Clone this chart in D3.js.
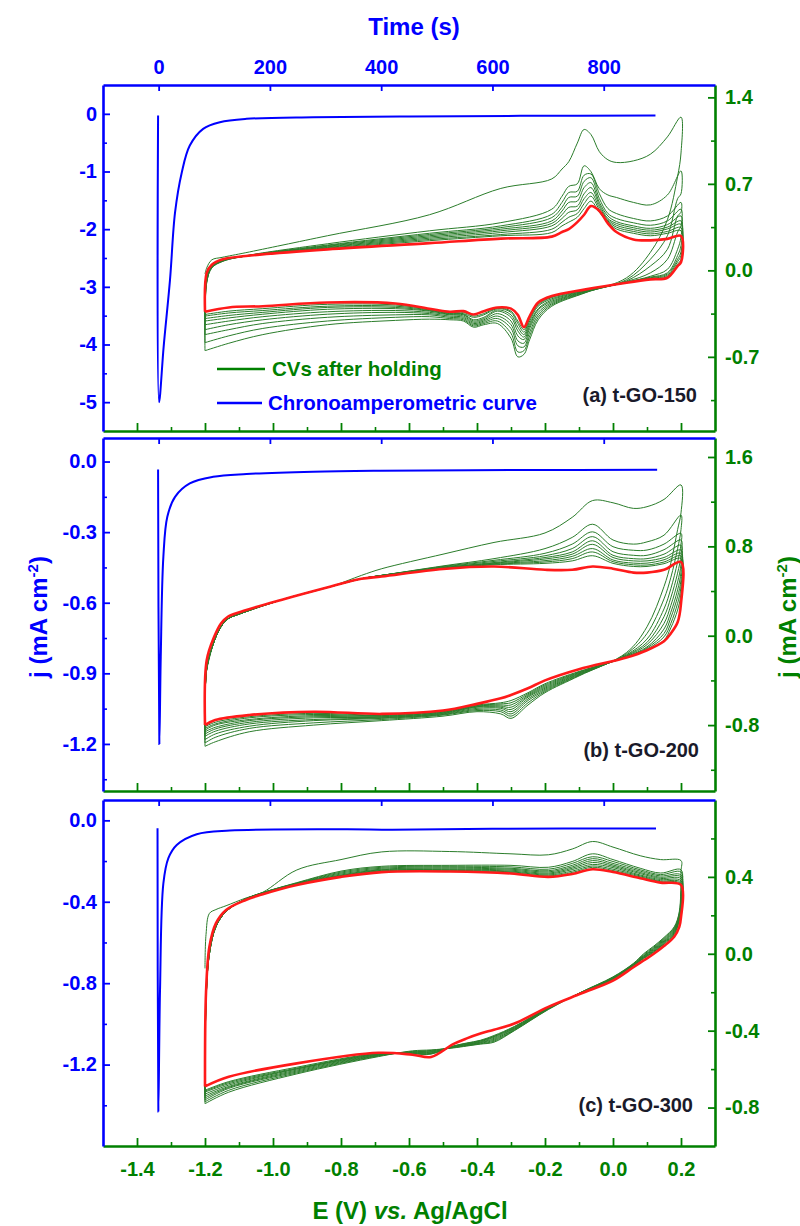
<!DOCTYPE html>
<html><head><meta charset="utf-8">
<script src="https://cdn.jsdelivr.net/npm/d3@7"></script>
<style>
body{margin:0;background:#fff}
svg text{font-family:"Liberation Sans",Arial,sans-serif;font-weight:bold}
</style>
</head><body><svg id="chart" width="800" height="1226"></svg>
<script>
// ---------------- tick labels ----------------
const timeTicks = [0, 200, 400, 600, 800];
const eTicks = [-1.4, -1.2, -1.0, -0.8, -0.6, -0.4, -0.2, 0.0, 0.2];
const eMinor = [-1.3, -1.1, -0.9, -0.7, -0.5, -0.3, -0.1, 0.1];
const aLeftTicks = [0, -1, -2, -3, -4, -5];
const aLeftMinor = [-0.5, -1.5, -2.5, -3.5, -4.5];
const bLeftTicks = [0, -0.3, -0.6, -0.9, -1.2];
const bLeftMinor = [-0.15, -0.45, -0.75, -1.05, -1.35];
const cLeftTicks = [0, -0.4, -0.8, -1.2];
const cLeftMinor = [-0.2, -0.6, -1.0, -1.4];
const aRightTicks = [1.4, 0.7, 0, -0.7];
const aRightMinor = [1.05, 0.35, -0.35, -1.05];
const bRightTicks = [1.6, 0.8, 0, -0.8];
const bRightMinor = [1.2, 0.4, -0.4, -1.2];
const cRightTicks = [0.4, 0, -0.4, -0.8];
const cRightMinor = [0.6, 0.2, -0.2, -0.6];

// ---------------- chronoamperometric curves (time s, j mA cm-2) ----------------
const chronoA_t = [-1, 0.7, 9, 20.5, 29.5, 41.5, 56, 80, 110, 158, 278, 450, 650, 893];
const chronoA_j = [-0.03, -5.0, -4.04, -2.87, -1.71, -1.02, -0.55, -0.26, -0.145, -0.087, -0.058, -0.045, -0.035, -0.03];
const chronoB_t = [-1, 1.3, 3.8, 8.5, 15.6, 29.5, 56, 98, 158, 278, 398, 650, 896];
const chronoB_j = [-0.034, -1.2, -0.83, -0.405, -0.235, -0.15, -0.093, -0.065, -0.053, -0.043, -0.039, -0.036, -0.035];
const chronoC_t = [-2, -0.5, 2.5, 8.5, 17.5, 32.5, 68.5, 128, 338, 420, 600, 894];
const chronoC_j = [-0.039, -1.43, -0.833, -0.31, -0.186, -0.121, -0.068, -0.05, -0.044, -0.046, -0.041, -0.04];

// ---------------- CVs panel (a): E grids and j per cycle (9 green + last red) ----------------
const aEup = [-1.2, -1.195, -1.18, -1.15, -1.08, -0.84, -0.54, -0.33, -0.18, -0.15, -0.13, -0.105, -0.085, -0.065, -0.04, -0.015, 0.01, 0.06, 0.11, 0.16, 0.2];
const aUp = [
 [-0.03, 0.02, 0.085, 0.105, 0.143, 0.28, 0.45, 0.663, 0.74, 0.82, 0.88, 1.03, 1.14, 1.10, 0.96, 0.895, 0.873, 0.886, 0.94, 1.08, 1.24],
 [-0.65, -0.10, 0.02, 0.07, 0.118, 0.215, 0.32, 0.386, 0.495, 0.60, 0.68, 0.70, 0.846, 0.80, 0.66, 0.61, 0.59, 0.55, 0.53, 0.61, 0.805],
 [-0.585, -0.10, 0.02, 0.072, 0.117, 0.205, 0.30, 0.36, 0.454, 0.55, 0.63, 0.64, 0.77, 0.78, 0.62, 0.50, 0.46, 0.42, 0.40, 0.44, 0.55],
 [-0.52, -0.09, 0.025, 0.075, 0.116, 0.20, 0.29, 0.346, 0.427, 0.51, 0.59, 0.60, 0.72, 0.75, 0.58, 0.46, 0.42, 0.385, 0.365, 0.40, 0.495],
 [-0.48, -0.08, 0.03, 0.077, 0.116, 0.195, 0.28, 0.333, 0.40, 0.48, 0.55, 0.56, 0.67, 0.71, 0.55, 0.44, 0.395, 0.36, 0.34, 0.37, 0.44],
 [-0.44, -0.07, 0.03, 0.08, 0.115, 0.19, 0.27, 0.32, 0.38, 0.45, 0.51, 0.52, 0.62, 0.67, 0.53, 0.42, 0.38, 0.345, 0.325, 0.35, 0.40],
 [-0.41, -0.06, 0.035, 0.082, 0.115, 0.185, 0.26, 0.306, 0.36, 0.42, 0.47, 0.49, 0.58, 0.63, 0.51, 0.41, 0.365, 0.33, 0.31, 0.335, 0.373],
 [-0.39, -0.05, 0.04, 0.084, 0.115, 0.18, 0.25, 0.29, 0.333, 0.39, 0.43, 0.46, 0.54, 0.60, 0.49, 0.40, 0.35, 0.315, 0.295, 0.315, 0.346],
 [-0.37, -0.04, 0.04, 0.086, 0.115, 0.175, 0.24, 0.28, 0.306, 0.36, 0.39, 0.43, 0.50, 0.56, 0.47, 0.39, 0.335, 0.30, 0.28, 0.30, 0.32],
 [-0.335, -0.02, 0.045, 0.088, 0.116, 0.17, 0.22, 0.257, 0.273, 0.31, 0.333, 0.39, 0.45, 0.52, 0.48, 0.38, 0.31, 0.25, 0.243, 0.255, 0.278]
];
const aEdn = [0.2, 0.19, 0.16, 0.11, 0.04, -0.08, -0.18, -0.22, -0.245, -0.262, -0.28, -0.3, -0.34, -0.38, -0.41, -0.44, -0.48, -0.54, -0.64, -0.84, -1.03, -1.13, -1.2];
const aDn = [
 [0.95, 0.76, 0.41, 0.146, -0.06, -0.18, -0.29, -0.40, -0.56, -0.68, -0.70, -0.55, -0.43, -0.44, -0.46, -0.41, -0.40, -0.395, -0.405, -0.44, -0.52, -0.59, -0.65],
 [0.62, 0.58, 0.28, 0.09, -0.075, -0.178, -0.28, -0.38, -0.53, -0.65, -0.66, -0.51, -0.41, -0.43, -0.45, -0.40, -0.39, -0.375, -0.38, -0.41, -0.47, -0.53, -0.585],
 [0.47, 0.44, 0.17, 0.035, -0.085, -0.175, -0.27, -0.36, -0.50, -0.62, -0.61, -0.47, -0.39, -0.42, -0.44, -0.39, -0.38, -0.36, -0.36, -0.38, -0.43, -0.48, -0.52],
 [0.36, 0.31, 0.089, -0.02, -0.09, -0.172, -0.26, -0.34, -0.47, -0.59, -0.57, -0.44, -0.37, -0.41, -0.43, -0.38, -0.37, -0.35, -0.34, -0.355, -0.40, -0.44, -0.48],
 [0.27, 0.17, 0.008, -0.048, -0.095, -0.17, -0.25, -0.32, -0.45, -0.56, -0.53, -0.41, -0.35, -0.40, -0.42, -0.37, -0.36, -0.34, -0.325, -0.335, -0.375, -0.41, -0.44],
 [0.20, 0.12, -0.02, -0.055, -0.097, -0.167, -0.24, -0.31, -0.43, -0.54, -0.49, -0.38, -0.33, -0.39, -0.41, -0.36, -0.355, -0.33, -0.31, -0.315, -0.355, -0.385, -0.41],
 [0.15, 0.09, -0.03, -0.06, -0.099, -0.164, -0.23, -0.29, -0.41, -0.52, -0.46, -0.36, -0.32, -0.38, -0.40, -0.355, -0.35, -0.325, -0.30, -0.30, -0.34, -0.365, -0.39],
 [0.12, 0.07, -0.04, -0.065, -0.10, -0.16, -0.22, -0.28, -0.39, -0.50, -0.43, -0.34, -0.31, -0.36, -0.38, -0.35, -0.345, -0.32, -0.29, -0.29, -0.325, -0.345, -0.37],
 [0.09, 0.05, -0.05, -0.07, -0.10, -0.157, -0.215, -0.27, -0.38, -0.48, -0.41, -0.33, -0.305, -0.35, -0.37, -0.34, -0.34, -0.315, -0.28, -0.275, -0.31, -0.33, -0.357],
 [0.065, 0.035, -0.06, -0.073, -0.10, -0.154, -0.208, -0.26, -0.37, -0.46, -0.36, -0.31, -0.30, -0.33, -0.357, -0.33, -0.335, -0.31, -0.268, -0.26, -0.29, -0.30, -0.335]
];

// ---------------- CVs panel (b) ----------------
const bEup = [-1.2, -1.195, -1.173, -1.153, -1.133, -1.094, -0.976, -0.83, -0.74, -0.68, -0.5, -0.35, -0.2, -0.12, -0.06, 0.0, 0.06, 0.1, 0.15, 0.2];
const bUp = [
 [-0.37, -0.3, -0.05, 0.08, 0.15, 0.20, 0.32, 0.44, 0.54, 0.60, 0.73, 0.835, 0.92, 1.06, 1.21, 1.19, 1.14, 1.155, 1.22, 1.35],
 [-0.99, -0.3, -0.05, 0.08, 0.15, 0.20, 0.32, 0.44, 0.51, 0.54, 0.625, 0.69, 0.78, 0.88, 0.998, 0.857, 0.82, 0.84, 0.90, 1.08],
 [-0.96, -0.3, -0.05, 0.08, 0.15, 0.20, 0.32, 0.44, 0.51, 0.54, 0.62, 0.675, 0.738, 0.82, 0.93, 0.797, 0.765, 0.767, 0.82, 0.917],
 [-0.93, -0.3, -0.05, 0.08, 0.15, 0.20, 0.32, 0.44, 0.51, 0.54, 0.615, 0.665, 0.716, 0.78, 0.887, 0.752, 0.72, 0.72, 0.77, 0.857],
 [-0.90, -0.3, -0.05, 0.08, 0.15, 0.20, 0.32, 0.44, 0.51, 0.54, 0.61, 0.655, 0.70, 0.75, 0.85, 0.72, 0.69, 0.69, 0.73, 0.81],
 [-0.88, -0.3, -0.05, 0.08, 0.15, 0.20, 0.32, 0.44, 0.51, 0.54, 0.607, 0.65, 0.687, 0.73, 0.818, 0.70, 0.67, 0.67, 0.70, 0.767],
 [-0.86, -0.3, -0.05, 0.08, 0.15, 0.20, 0.32, 0.44, 0.51, 0.54, 0.604, 0.645, 0.672, 0.71, 0.78, 0.678, 0.65, 0.65, 0.68, 0.738],
 [-0.845, -0.3, -0.05, 0.08, 0.15, 0.20, 0.32, 0.44, 0.51, 0.54, 0.602, 0.64, 0.66, 0.69, 0.75, 0.663, 0.635, 0.633, 0.66, 0.714],
 [-0.83, -0.3, -0.05, 0.08, 0.15, 0.20, 0.32, 0.44, 0.51, 0.535, 0.60, 0.635, 0.648, 0.67, 0.716, 0.648, 0.62, 0.62, 0.645, 0.69],
 [-0.80, -0.22, -0.01, 0.11, 0.17, 0.215, 0.32, 0.44, 0.51, 0.53, 0.598, 0.62, 0.59, 0.59, 0.62, 0.60, 0.565, 0.565, 0.59, 0.66]
];
const bEdn = [0.2, 0.19, 0.17, 0.15, 0.1, 0.04, -0.1, -0.2, -0.25, -0.3, -0.33, -0.4, -0.5, -0.68, -0.88, -1.07, -1.17, -1.2];
const bDn = [
 [1.1, 0.95, 0.65, 0.44, 0.08, -0.15, -0.36, -0.51, -0.62, -0.74, -0.70, -0.68, -0.72, -0.76, -0.80, -0.86, -0.95, -0.99],
 [0.95, 0.78, 0.52, 0.33, 0.02, -0.16, -0.355, -0.50, -0.60, -0.72, -0.68, -0.67, -0.71, -0.75, -0.78, -0.83, -0.91, -0.96],
 [0.82, 0.66, 0.42, 0.24, -0.03, -0.17, -0.35, -0.49, -0.58, -0.70, -0.665, -0.66, -0.705, -0.74, -0.76, -0.81, -0.88, -0.93],
 [0.72, 0.56, 0.34, 0.17, -0.06, -0.175, -0.345, -0.48, -0.565, -0.68, -0.65, -0.65, -0.70, -0.735, -0.75, -0.79, -0.855, -0.90],
 [0.64, 0.48, 0.27, 0.11, -0.08, -0.18, -0.34, -0.47, -0.55, -0.66, -0.64, -0.64, -0.695, -0.73, -0.735, -0.775, -0.835, -0.88],
 [0.57, 0.41, 0.21, 0.06, -0.10, -0.185, -0.335, -0.46, -0.54, -0.64, -0.63, -0.635, -0.69, -0.725, -0.725, -0.76, -0.82, -0.86],
 [0.50, 0.35, 0.16, 0.02, -0.11, -0.19, -0.33, -0.45, -0.53, -0.62, -0.62, -0.63, -0.685, -0.72, -0.715, -0.75, -0.80, -0.845],
 [0.44, 0.29, 0.11, -0.01, -0.12, -0.19, -0.325, -0.44, -0.52, -0.60, -0.61, -0.625, -0.68, -0.715, -0.705, -0.735, -0.79, -0.83],
 [0.38, 0.23, 0.07, -0.04, -0.13, -0.195, -0.32, -0.43, -0.51, -0.58, -0.60, -0.62, -0.675, -0.71, -0.695, -0.725, -0.775, -0.815],
 [0.29, 0.12, 0.02, -0.05, -0.13, -0.195, -0.30, -0.40, -0.47, -0.53, -0.56, -0.61, -0.67, -0.70, -0.68, -0.71, -0.755, -0.80]
];

// ---------------- CVs panel (c) ----------------
const cEup = [-1.2, -1.197, -1.187, -1.168, -1.138, -1.08, -1.03, -0.93, -0.8, -0.68, -0.48, -0.3, -0.19, -0.12, -0.06, 0.0, 0.08, 0.14, 0.2];
const cUp = [
 [-0.076, 0.1, 0.21, 0.23, 0.25, 0.29, 0.32, 0.436, 0.49, 0.53, 0.532, 0.52, 0.515, 0.545, 0.584, 0.555, 0.51, 0.49, 0.485],
 [-0.78, -0.25, 0.0, 0.14, 0.22, 0.285, 0.318, 0.37, 0.43, 0.455, 0.46, 0.46, 0.45, 0.48, 0.52, 0.49, 0.445, 0.42, 0.437],
 [-0.77, -0.25, 0.0, 0.14, 0.22, 0.285, 0.318, 0.368, 0.425, 0.45, 0.455, 0.452, 0.44, 0.47, 0.505, 0.48, 0.437, 0.412, 0.425],
 [-0.76, -0.25, 0.0, 0.14, 0.22, 0.285, 0.318, 0.366, 0.42, 0.445, 0.45, 0.445, 0.432, 0.46, 0.495, 0.47, 0.43, 0.405, 0.41],
 [-0.75, -0.25, 0.0, 0.14, 0.22, 0.285, 0.318, 0.365, 0.415, 0.44, 0.445, 0.44, 0.426, 0.452, 0.485, 0.462, 0.423, 0.398, 0.40],
 [-0.74, -0.25, 0.0, 0.14, 0.22, 0.285, 0.316, 0.364, 0.41, 0.437, 0.44, 0.435, 0.42, 0.445, 0.475, 0.455, 0.417, 0.392, 0.39],
 [-0.73, -0.25, 0.0, 0.14, 0.22, 0.284, 0.315, 0.362, 0.407, 0.434, 0.437, 0.43, 0.415, 0.438, 0.465, 0.448, 0.41, 0.386, 0.38],
 [-0.72, -0.25, 0.01, 0.145, 0.222, 0.283, 0.313, 0.361, 0.404, 0.431, 0.434, 0.426, 0.41, 0.43, 0.457, 0.44, 0.405, 0.38, 0.372],
 [-0.71, -0.23, 0.02, 0.15, 0.225, 0.282, 0.312, 0.36, 0.402, 0.428, 0.431, 0.422, 0.405, 0.423, 0.45, 0.433, 0.40, 0.375, 0.365],
 [-0.69, -0.2, 0.037, 0.158, 0.228, 0.28, 0.31, 0.358, 0.40, 0.425, 0.428, 0.418, 0.40, 0.415, 0.44, 0.425, 0.393, 0.37, 0.358]
];
const cEdn = [0.2, 0.195, 0.18, 0.15, 0.12, 0.09, 0.06, 0.0, -0.094, -0.19, -0.29, -0.35, -0.39, -0.43, -0.47, -0.535, -0.59, -0.69, -0.93, -1.13, -1.2];
const cDn = [
 [0.43, 0.22, 0.14, 0.085, 0.04, 0.0, -0.05, -0.12, -0.20, -0.29, -0.40, -0.46, -0.47, -0.48, -0.49, -0.50, -0.505, -0.535, -0.625, -0.72, -0.78],
 [0.32, 0.21, 0.135, 0.08, 0.035, -0.005, -0.052, -0.122, -0.20, -0.288, -0.398, -0.455, -0.468, -0.478, -0.488, -0.503, -0.508, -0.532, -0.62, -0.71, -0.77],
 [0.30, 0.20, 0.13, 0.075, 0.03, -0.01, -0.054, -0.124, -0.201, -0.286, -0.395, -0.45, -0.465, -0.476, -0.486, -0.506, -0.51, -0.53, -0.615, -0.70, -0.76],
 [0.28, 0.195, 0.125, 0.07, 0.026, -0.012, -0.056, -0.126, -0.202, -0.285, -0.392, -0.445, -0.462, -0.474, -0.485, -0.509, -0.512, -0.528, -0.61, -0.695, -0.75],
 [0.26, 0.19, 0.12, 0.066, 0.022, -0.015, -0.058, -0.128, -0.203, -0.284, -0.389, -0.44, -0.46, -0.472, -0.484, -0.512, -0.514, -0.526, -0.605, -0.69, -0.74],
 [0.25, 0.185, 0.115, 0.062, 0.018, -0.018, -0.06, -0.13, -0.204, -0.283, -0.386, -0.435, -0.457, -0.47, -0.483, -0.515, -0.516, -0.524, -0.60, -0.683, -0.73],
 [0.24, 0.18, 0.11, 0.058, 0.014, -0.02, -0.062, -0.132, -0.205, -0.282, -0.383, -0.43, -0.454, -0.468, -0.482, -0.518, -0.518, -0.522, -0.598, -0.676, -0.72],
 [0.23, 0.175, 0.105, 0.054, 0.01, -0.022, -0.064, -0.134, -0.205, -0.281, -0.38, -0.43, -0.452, -0.466, -0.481, -0.52, -0.52, -0.52, -0.595, -0.67, -0.715],
 [0.22, 0.17, 0.10, 0.05, 0.008, -0.025, -0.066, -0.136, -0.206, -0.28, -0.378, -0.425, -0.45, -0.464, -0.48, -0.522, -0.52, -0.518, -0.59, -0.665, -0.71],
 [0.19, 0.14, 0.089, 0.04, 0.0, -0.035, -0.07, -0.14, -0.207, -0.276, -0.363, -0.395, -0.415, -0.44, -0.47, -0.537, -0.525, -0.515, -0.57, -0.64, -0.69]
];

// ---------------- drawing ----------------
const BLUE = "#0000ff", GREEN = "#008000", CVG = "#2b7d2b", RED = "#ff1a1a", DARK = "#1a1a2a";
const FONT = '"Liberation Sans", Arial, sans-serif';
const L = 103, R = 715;
const svg = d3.select("#chart");
svg.append("rect").attr("width", 800).attr("height", 1226).attr("fill", "#fff");

const panels = [
  {top: 85, bot: 431, yl: [-5.5, 0.5], yr: [-1.3, 1.5], lt: aLeftTicks, lm: aLeftMinor, rt: aRightTicks, rm: aRightMinor,
   lfmt: d => String(d), Eup: aEup, up: aUp, Edn: aEdn, dn: aDn, ct: chronoA_t, cj: chronoA_j, label: "(a) t-GO-150", lx: 697, ly: 402, topLabels: true, botLabels: false},
  {top: 438, bot: 791, yl: [-1.4, 0.1], yr: [-1.39, 1.77], lt: bLeftTicks, lm: bLeftMinor, rt: bRightTicks, rm: bRightMinor,
   lfmt: d => d.toFixed(1), Eup: bEup, up: bUp, Edn: bEdn, dn: bDn, ct: chronoB_t, cj: chronoB_j, label: "(b) t-GO-200", lx: 699, ly: 757, topLabels: false, botLabels: false},
  {top: 800, bot: 1146, yl: [-1.6, 0.1], yr: [-1.0, 0.8], lt: cLeftTicks, lm: cLeftMinor, rt: cRightTicks, rm: cRightMinor,
   lfmt: d => d.toFixed(1), Eup: cEup, up: cUp, Edn: cEdn, dn: cDn, ct: chronoC_t, cj: chronoC_j, label: "(c) t-GO-300", lx: 693, ly: 1112, topLabels: false, botLabels: true}
];

const xE = d3.scaleLinear().domain([-1.5, 0.3]).range([L, R]);
const xT = d3.scaleLinear().domain([-100, 1000]).range([L, R]);

function styleAx(g, color, fs) {
  g.select(".domain").attr("stroke", color).attr("stroke-width", 2.6);
  g.selectAll(".tick line").attr("stroke", color).attr("stroke-width", 1.8);
  g.selectAll(".tick text").attr("fill", color).style("font-size", fs + "px")
    .style("font-family", FONT).style("font-weight", "bold");
}
function minorAx(axis, tr, color) {
  const g = svg.append("g").attr("transform", tr).call(axis);
  g.select(".domain").remove();
  g.selectAll(".tick line").attr("stroke", color).attr("stroke-width", 1.6);
}

panels.forEach(p => {
  const yL = d3.scaleLinear().domain(p.yl).range([p.bot, p.top]);
  const yR = d3.scaleLinear().domain(p.yr).range([p.bot, p.top]);

  // CV cycles
  const line = d3.line().x(d => xE(d[0])).y(d => yR(d[1])).curve(d3.curveCatmullRom.alpha(0.5));
  const gCV = svg.append("g");
  p.up.forEach((u, i) => {
    const pts = p.Eup.map((e, k) => [e, u[k]]).concat(p.Edn.map((e, k) => [e, p.dn[i][k]]));
    const isRed = i === p.up.length - 1;
    gCV.append("path").attr("d", line(pts)).attr("fill", "none")
      .attr("stroke", isRed ? RED : CVG).attr("stroke-width", isRed ? 2.6 : 1.0)
      .attr("stroke-linejoin", "round");
  });

  // chrono curve
  const cl = d3.line().x(d => xT(d[0])).y(d => yL(d[1])).curve(d3.curveCatmullRom.alpha(0.5));
  svg.append("path").attr("d", cl(p.ct.map((t, k) => [t, p.cj[k]]))).attr("fill", "none")
    .attr("stroke", BLUE).attr("stroke-width", 2);

  // axes
  const bot = svg.append("g").attr("transform", `translate(0,${p.bot})`)
    .call(d3.axisBottom(xE).tickValues(eTicks).tickSizeInner(-8).tickSizeOuter(0).tickPadding(16)
      .tickFormat(p.botLabels ? (d => d.toFixed(1)) : ""));
  styleAx(bot, GREEN, 20);
  minorAx(d3.axisBottom(xE).tickValues(eMinor).tickSize(-4).tickFormat(""), `translate(0,${p.bot})`, GREEN);

  const right = svg.append("g").attr("transform", `translate(${R},0)`)
    .call(d3.axisRight(yR).tickValues(p.rt).tickSizeInner(-7).tickSizeOuter(0).tickPadding(10)
      .tickFormat(d => d.toFixed(1)));
  styleAx(right, GREEN, 20);
  minorAx(d3.axisRight(yR).tickValues(p.rm).tickSize(-4).tickFormat(""), `translate(${R},0)`, GREEN);

  const top = svg.append("g").attr("transform", `translate(0,${p.top})`)
    .call(d3.axisTop(xT).tickValues(timeTicks).tickSizeInner(-6).tickSizeOuter(0).tickPadding(11)
      .tickFormat(p.topLabels ? (d => String(d)) : ""));
  styleAx(top, BLUE, 20);

  const left = svg.append("g").attr("transform", `translate(${L},0)`)
    .call(d3.axisLeft(yL).tickValues(p.lt).tickSizeInner(-7).tickSizeOuter(0).tickPadding(6)
      .tickFormat(p.lfmt));
  styleAx(left, BLUE, 20);
  minorAx(d3.axisLeft(yL).tickValues(p.lm).tickSize(-4).tickFormat(""), `translate(${L},0)`, BLUE);

  // panel label
  svg.append("text").attr("x", p.lx).attr("y", p.ly).attr("text-anchor", "end")
    .attr("fill", DARK).style("font-size", "20px").text(p.label);
});

// legend (panel a)
svg.append("line").attr("x1", 217).attr("x2", 265).attr("y1", 369).attr("y2", 369).attr("stroke", GREEN).attr("stroke-width", 2.6);
svg.append("text").attr("x", 272).attr("y", 376).attr("fill", GREEN).style("font-size", "20.5px").text("CVs after holding");
svg.append("line").attr("x1", 217).attr("x2", 262).attr("y1", 403).attr("y2", 403).attr("stroke", BLUE).attr("stroke-width", 2.6);
svg.append("text").attr("x", 268).attr("y", 410).attr("fill", BLUE).style("font-size", "20.5px").text("Chronoamperometric curve");

// axis titles
svg.append("text").attr("x", 414).attr("y", 35).attr("text-anchor", "middle").attr("fill", BLUE)
  .style("font-size", "24px").text("Time (s)");
const bt = svg.append("text").attr("x", 410).attr("y", 1219).attr("text-anchor", "middle").attr("fill", GREEN).style("font-size", "24px");
bt.append("tspan").text("E (V) ");
bt.append("tspan").style("font-style", "italic").text("vs.");
bt.append("tspan").text(" Ag/AgCl");

function yTitle(x, color) {
  const t = svg.append("text").attr("transform", `translate(${x},617) rotate(-90)`).attr("text-anchor", "middle")
    .attr("fill", color).style("font-size", "24px");
  t.append("tspan").text("j (mA cm");
  t.append("tspan").attr("dy", -9).style("font-size", "15px").text("-2");
  t.append("tspan").attr("dy", 9).text(")");
}
yTitle(47, BLUE);
yTitle(796, GREEN);
</script>
</body></html>
